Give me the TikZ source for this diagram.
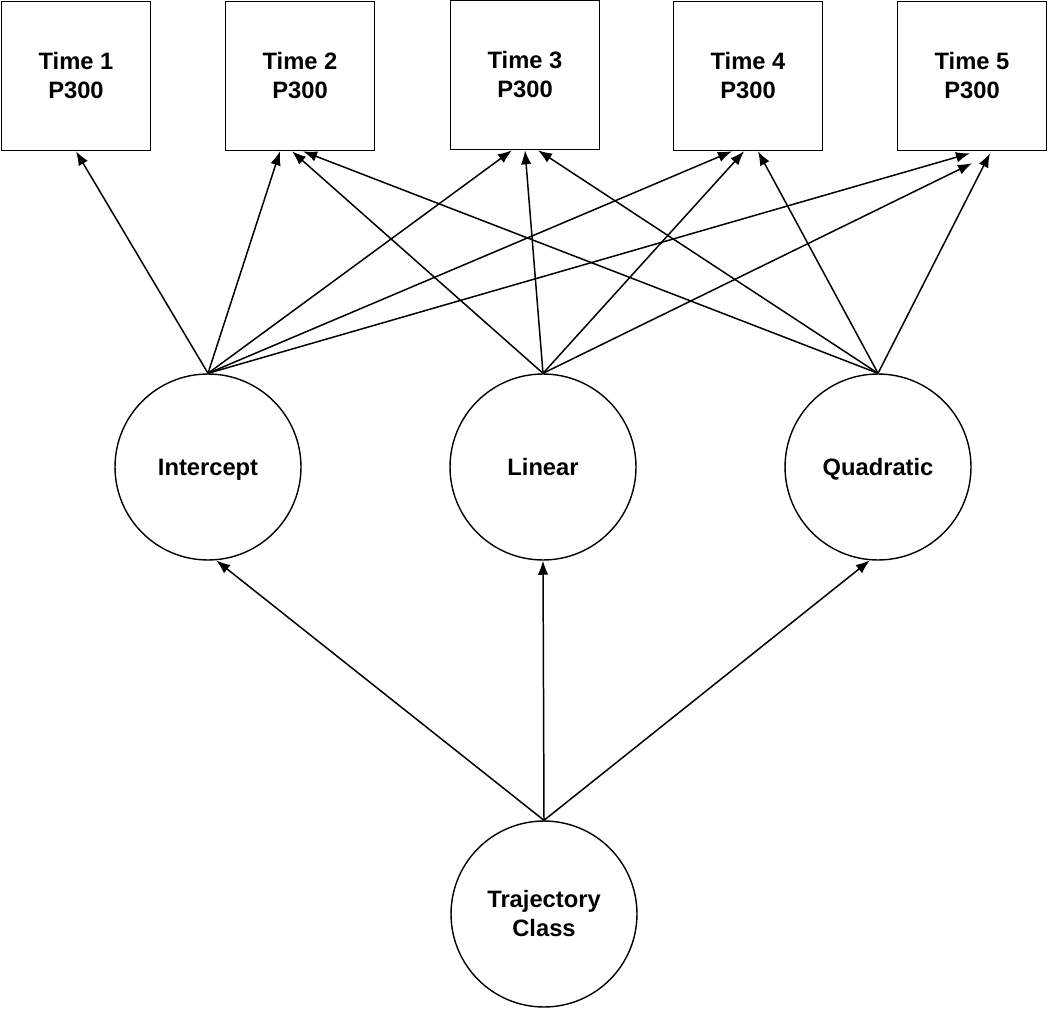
\documentclass[tikz,border=0pt]{standalone}
\usepackage{fontspec}
\setmainfont{Liberation Sans}
\usepackage{tikz}
\usetikzlibrary{arrows.meta}

\begin{document}
\begin{tikzpicture}[x=0.02cm,y=-0.02cm,
  every node/.style={font=\fontsize{13.5}{16.5}\selectfont\bfseries,align=center},
  tbox/.style={draw,line width=0.9pt,minimum width=2.98cm,minimum height=2.98cm,inner sep=0pt},
  factor/.style={draw,circle,line width=0.8pt,minimum size=3.72cm,inner sep=0pt},
  oneline/.style={text height=9.7pt,text depth=0pt},
  path/.style={-{Latex[length=8pt,width=6pt]},line width=0.85pt}]
\useasboundingbox (0,0) rectangle (1050,1016);
% observed P300 boxes
\node[tbox] (t1) at (76,76) {Time 1\\P300};
\node[tbox] (t2) at (300,76) {Time 2\\P300};
\node[tbox] (t3) at (525,75) {Time 3\\P300};
\node[tbox] (t4) at (748,76) {Time 4\\P300};
\node[tbox] (t5) at (972,76) {Time 5\\P300};
% growth factors
\node[factor,oneline] (icpt) at (208,467) {Intercept};
\node[factor,oneline] (lin) at (543,467) {Linear};
\node[factor,oneline] (quad) at (878,467) {Quadratic};
\node[factor] (traj) at (544,914) {Trajectory\\Class};
% loadings
\draw[path] (icpt.north) -- (t1.south);
\draw[path] (icpt.north) -- ([xshift=-0.4cm]t2.south);
\draw[path] (icpt.north) -- ([xshift=-0.26cm]t3.south);
\draw[path] (icpt.north) -- ([xshift=-0.32cm]t4.south);
\draw[path] (icpt.north) -- ([xshift=-0.04cm,yshift=-0.04cm]t5.south);
\draw[path] (lin.north) -- ([xshift=-0.16cm]t2.south);
\draw[path] (lin.north) -- (t3.south);
\draw[path] (lin.north) -- ([xshift=-0.08cm]t4.south);
\draw[path] (lin.north) -- ([yshift=-0.24cm]t5.south);
\draw[path] (quad.north) -- ([xshift=0.06cm]t2.south);
\draw[path] (quad.north) -- ([xshift=0.26cm]t3.south);
\draw[path] (quad.north) -- ([xshift=0.2cm]t4.south);
\draw[path] (quad.north) -- ([xshift=0.36cm,yshift=-0.04cm]t5.south);
% class to factors
\draw[path] (traj.north) -- (icpt.-85);
\draw[path] (traj.north) -- (lin.south);
\draw[path] (traj.north) -- (quad.-95);
\end{tikzpicture}
\end{document}
